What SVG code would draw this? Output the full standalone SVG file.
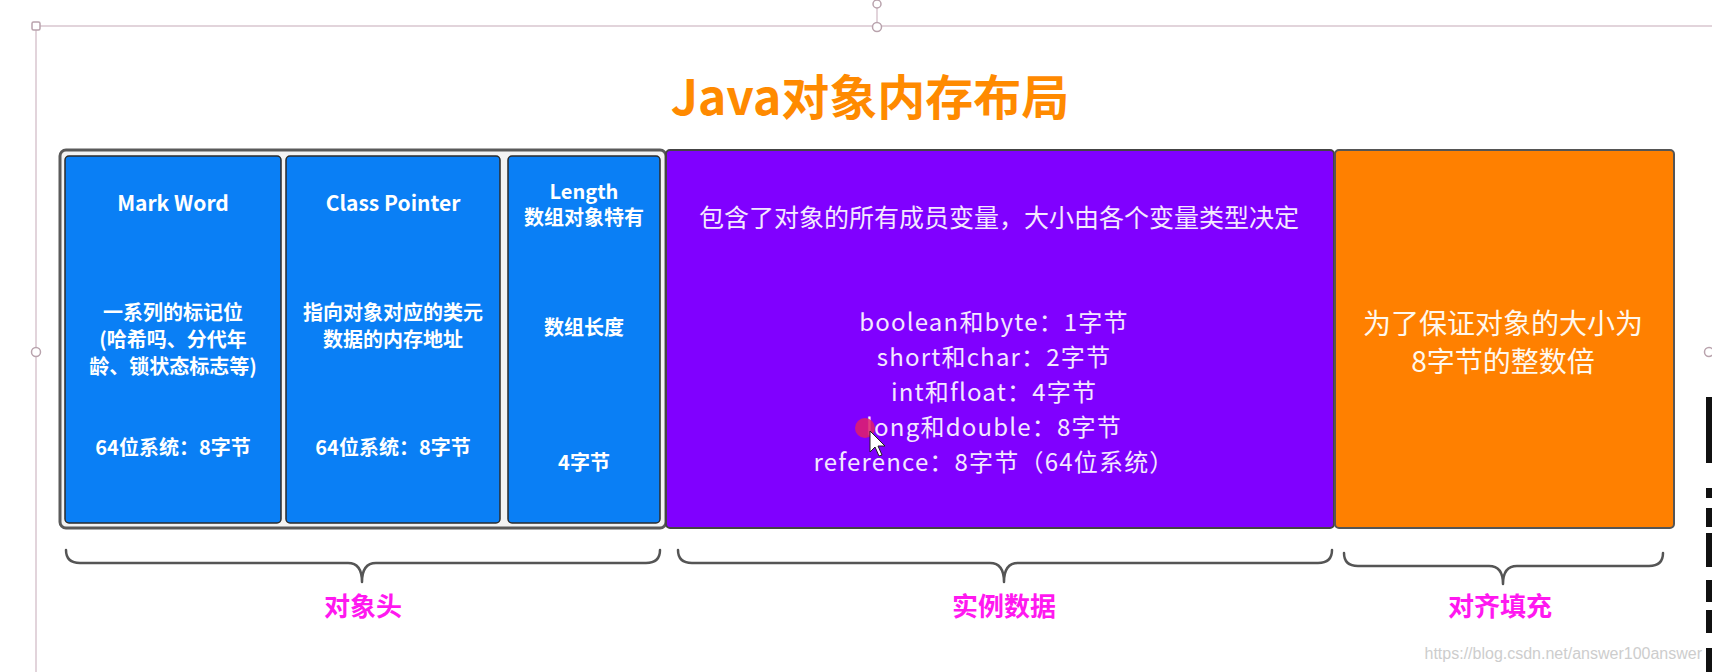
<svg xmlns="http://www.w3.org/2000/svg" width="1712" height="672" viewBox="0 0 1712 672">
<style>
  .frame { fill: none; stroke: #d9c6cf; stroke-width: 1.5; }
  .handle { fill: #fff; stroke: #b9a3ad; stroke-width: 1.5; }
  .title { font-family: "Noto Sans CJK SC", "Noto Sans", sans-serif; font-size: 48px; font-weight: 700; fill: #ff8a00; }
  .blue { fill: #0a7ff5; stroke: #2b2b2b; stroke-width: 1.5; }
  .bt { font-family: "Noto Sans CJK SC", "Noto Sans", sans-serif; font-size: 20px; font-weight: 700; fill: #ffffff; text-anchor: middle; }
  .pt { font-family: "Noto Sans CJK SC", "Noto Sans", sans-serif; font-size: 24px; letter-spacing: 1.2px; fill: #f4e8ff; text-anchor: middle; }
  .ot { font-family: "Noto Sans CJK SC", "Noto Sans", sans-serif; font-size: 28px; fill: #fff8ee; text-anchor: middle; }
  .brace { fill: none; stroke: #555; stroke-width: 2.5; stroke-linecap: round; stroke-linejoin: round; }
  .lbl { font-family: "Noto Sans CJK SC", "Noto Sans", sans-serif; font-size: 26px; font-weight: 700; fill: #ff18f0; text-anchor: middle; }
  .wm { font-family: "Liberation Sans", Arial, sans-serif; font-size: 16px; fill: #cdcdcd; text-anchor: end; }
</style>

<!-- selection frame -->
<g id="selection">
  <line class="frame" x1="36" y1="26" x2="1712" y2="26"/>
  <line class="frame" x1="36" y1="26" x2="36" y2="672"/>
  <line class="frame" x1="877" y1="8" x2="877" y2="22"/>
  <rect class="handle" x="32" y="22" width="8" height="8" rx="1.5"/>
  <circle class="handle" cx="877" cy="4" r="4"/>
  <circle class="handle" cx="877" cy="27" r="4.5"/>
  <circle class="handle" cx="36" cy="352" r="4.5"/>
  <circle class="handle" cx="1709" cy="352" r="4.5"/>
</g>

<!-- right black dashed bar -->
<g id="sidebar">
  <rect x="1706" y="397" width="6" height="66" fill="#111"/>
  <rect x="1706" y="488" width="6" height="10" fill="#111"/>
  <rect x="1706" y="508" width="6" height="19" fill="#111"/>
  <rect x="1706" y="533" width="6" height="34" fill="#111"/>
  <rect x="1706" y="580" width="6" height="22" fill="#111"/>
  <rect x="1706" y="610" width="6" height="23" fill="#111"/>
  <rect x="1706" y="648" width="6" height="24" fill="#111"/>
</g>

<g id="title">
  <text class="title" x="870" y="115" text-anchor="middle">Java对象内存布局</text>
</g>

<!-- object header container -->
<g id="header">
  <rect x="60" y="150" width="606" height="378" rx="6" fill="#f3f3f3" stroke="#5a5a5a" stroke-width="3"/>
</g>

<g id="markword">
  <rect class="blue" x="65" y="156" width="216" height="367" rx="4"/>
  <text class="bt" x="173" y="211" style="font-size:21px">Mark Word</text>
  <text class="bt" x="173" y="320">一系列的标记位</text>
  <text class="bt" x="173" y="347">(哈希吗、分代年</text>
  <text class="bt" x="173" y="374">龄、锁状态标志等)</text>
  <text class="bt" x="173" y="455">64位系统：8字节</text>
</g>

<g id="classpointer">
  <rect class="blue" x="286" y="156" width="214" height="367" rx="4"/>
  <text class="bt" x="393" y="211" style="font-size:21px">Class Pointer</text>
  <text class="bt" x="393" y="320">指向对象对应的类元</text>
  <text class="bt" x="393" y="347">数据的内存地址</text>
  <text class="bt" x="393" y="455">64位系统：8字节</text>
</g>

<g id="length">
  <rect class="blue" x="508" y="156" width="152" height="367" rx="4"/>
  <text class="bt" x="584" y="199">Length</text>
  <text class="bt" x="584" y="225">数组对象特有</text>
  <text class="bt" x="584" y="335">数组长度</text>
  <text class="bt" x="584" y="470">4字节</text>
</g>

<g id="instancedata">
  <rect x="666" y="150" width="668" height="378" rx="4" fill="#8000ff" stroke="#444" stroke-width="2"/>
  <text class="pt" x="999" y="227" style="font-size:25px;letter-spacing:0">包含了对象的所有成员变量，大小由各个变量类型决定</text>
  <text class="pt" x="994" y="331">boolean和byte：1字节</text>
  <text class="pt" x="994" y="366">short和char：2字节</text>
  <text class="pt" x="994" y="401">int和float：4字节</text>
  <text class="pt" x="994" y="436">long和double：8字节</text>
  <text class="pt" x="994" y="471">reference：8字节（64位系统）</text>
</g>

<g id="padding">
  <rect x="1335" y="150" width="339" height="378" rx="4" fill="#ff8000" stroke="#555" stroke-width="2"/>
  <text class="ot" x="1503" y="334">为了保证对象的大小为</text>
  <text class="ot" x="1503" y="372">8字节的整数倍</text>
</g>

<!-- cursor -->
<g id="cursor">
  <circle cx="865" cy="428" r="10" fill="#e0206a" opacity="0.85"/>
  <path d="M870,431 L870,452 L875,447 L879,456 L882,455 L878,446 L885,446 Z" fill="#fff" stroke="#222" stroke-width="1"/>
</g>

<g id="connectors">
  <path class="brace" d="M66,550 Q66,563 80,563 L348,563 Q362,563 362,582 Q362,563 376,563 L646,563 Q660,563 660,550"/>
  <path class="brace" d="M678,550 Q678,563 692,563 L990,563 Q1004,563 1004,582 Q1004,563 1018,563 L1318,563 Q1332,563 1332,550"/>
  <path class="brace" d="M1344,553 Q1344,566 1358,566 L1489,566 Q1503,566 1503,584 Q1503,566 1517,566 L1649,566 Q1663,566 1663,553"/>
</g>

<g id="labels">
  <text class="lbl" x="363" y="616">对象头</text>
  <text class="lbl" x="1004" y="616">实例数据</text>
  <text class="lbl" x="1500" y="616">对齐填充</text>
</g>

<g id="watermark">
  <text class="wm" x="1702" y="659">https://blog.csdn.net/answer100answer</text>
</g>
</svg>
